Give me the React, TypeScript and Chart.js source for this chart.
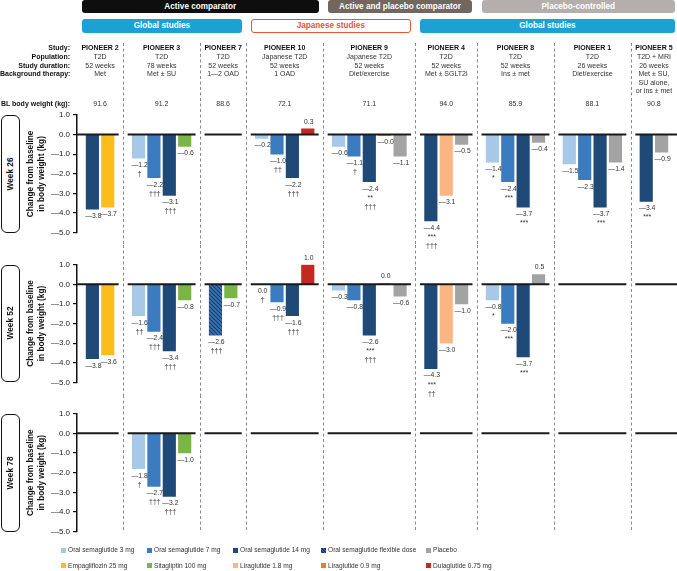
import React, { useEffect, useRef } from 'react';
import { Chart, registerables } from 'chart.js';

Chart.register(...registerables);

// ---------------- DATA ----------------
const studies = ['PIONEER 2', 'PIONEER 3', 'PIONEER 7', 'PIONEER 10', 'PIONEER 9', 'PIONEER 4', 'PIONEER 8', 'PIONEER 1', 'PIONEER 5'];
const populations = ['T2D', 'T2D', 'T2D', 'Japanese T2D', 'Japanese T2D', 'T2D', 'T2D', 'T2D', 'T2D + MRI'];
const durations = ['52 weeks', '78 weeks', '52 weeks', '52 weeks', '52 weeks', '52 weeks', '52 weeks', '26 weeks', '26 weeks'];
const backgroundTherapy = ['Met', 'Met ± SU', '1—2 OAD', '1 OAD', 'Diet/exercise', 'Met ± SGLT2i', 'Ins ± met', 'Diet/exercise', 'Met ± SU,\nSU alone,\nor ins ± met'];
const blBodyWeight = ['91.6', '91.2', '88.6', '72.1', '71.1', '94.0', '85.9', '88.1', '90.8'];
const rowLabels = ['Study:', 'Population:', 'Study duration:', 'Background therapy:'];
const blLabel = 'BL body weight (kg):';

const comparatorLabels = ['Active comparator', 'Active and placebo comparator', 'Placebo-controlled'];
const comparatorSpans = [[0, 3], [4, 5], [6, 8]];
const regionLabels = ['Global studies', 'Japanese studies', 'Global studies'];
const regionSpans = [[0, 2], [3, 4], [5, 8]];

const treatmentNames = [
  'Oral semaglutide 3 mg', 'Oral semaglutide 7 mg', 'Oral semaglutide 14 mg', 'Oral semaglutide flexible dose', 'Placebo',
  'Empagliflozin 25 mg', 'Sitagliptin 100 mg', 'Liraglutide 1.8 mg', 'Liraglutide 0.9 mg', 'Dulaglutide 0.75 mg',
];
const treatmentColors = ['#a8c8e7', '#3b7bbf', '#1f4a78', '#3a74b6', '#a3a3a3', '#fbbd1b', '#79b646', '#fbb583', '#ef7a2c', '#c4281f'];
const FLEX = 3;

// one entry per study arm (bar slot)
const armStudy = [0, 0, 1, 1, 1, 1, 2, 2, 3, 3, 3, 3, 4, 4, 4, 4, 4, 5, 5, 5, 6, 6, 6, 6, 7, 7, 7, 7, 8, 8];
const armTreatment = [2, 5, 0, 1, 2, 6, 3, 6, 0, 1, 2, 9, 0, 1, 2, 8, 4, 2, 7, 4, 0, 1, 2, 4, 0, 1, 2, 4, 2, 4];

const weekLabels = ['Week 26', 'Week 52', 'Week 78'];
const week26Change = [-3.8, -3.7, -1.2, -2.2, -3.1, -0.6, null, null, -0.2, -1.0, -2.2, 0.3, -0.6, -1.1, -2.4, -0.04, -1.1, -4.4, -3.1, -0.5, -1.4, -2.4, -3.7, -0.4, -1.5, -2.3, -3.7, -1.4, -3.4, -0.9];
const week26Marks = ['', '', '†', '†††', '†††', '', '', '', '', '††', '†††', '', '', '†', '**\n†††', '', '', '***\n†††', '', '', '*', '***', '***', '', '', '', '***', '', '***', ''];
const week52Change = [-3.8, -3.6, -1.6, -2.4, -3.4, -0.8, -2.6, -0.7, 0.0, -0.9, -1.6, 1.0, -0.3, -0.8, -2.6, 0.04, -0.6, -4.3, -3.0, -1.0, -0.8, -2.0, -3.7, 0.5, null, null, null, null, null, null];
const week52Marks = ['', '', '††', '†††', '†††', '', '†††', '', '†', '†††', '†††', '', '', '', '***\n†††', '', '', '***\n††', '', '', '*', '***', '***', '', '', '', '', '', '', ''];
const week78Change = [null, null, -1.8, -2.7, -3.2, -1.0, null, null, null, null, null, null, null, null, null, null, null, null, null, null, null, null, null, null, null, null, null, null, null, null];
const week78Marks = ['', '', '†', '†††', '†††', '', '', '', '', '', '', '', '', '', '', '', '', '', '', '', '', '', '', '', '', '', '', '', '', ''];

const yTicks = [1, 0, -1, -2, -3, -4, -5];
const yTitle = ['Change from baseline', 'in body weight (kg)'];

// ---------------- LAYOUT ----------------
const FONT = '"Liberation Sans", Arial, Helvetica, sans-serif';
const W = 677;
const PLOT_LEFT = 77;
const PLOT_RIGHT = 677;

const armSlot: number[] = [];
(() => {
  let s = 0;
  armStudy.forEach((st, i) => {
    if (i > 0 && st !== armStudy[i - 1]) s += 1;
    armSlot.push(s);
    s += 1;
  });
})();
const X_MIN = -1;
const X_MAX = armSlot[armSlot.length - 1] + 1;
const slotPx = (s: number) => PLOT_LEFT + ((s - X_MIN) / (X_MAX - X_MIN)) * (PLOT_RIGHT - PLOT_LEFT);
const studyFirst = studies.map((_, g) => Math.min(...armSlot.filter((_, i) => armStudy[i] === g)));
const studyLast = studies.map((_, g) => Math.max(...armSlot.filter((_, i) => armStudy[i] === g)));
const studyCenter = (g: number) => (slotPx(studyFirst[g]) + slotPx(studyLast[g])) / 2;
const sepSlots = studies.slice(1).map((_, g) => studyFirst[g + 1] - 1);
const sepPx = (k: number) => slotPx(sepSlots[k]);
const spanLeft = (g: number) => (g === 0 ? PLOT_LEFT + 5 : sepPx(g - 1) + 4.5);
const spanRight = (g: number) => (g === studies.length - 1 ? PLOT_RIGHT - 2 : sepPx(g) - 4.5);

// canvases overlap downwards so labels below a panel are never clipped;
// separators are drawn only over each panel's own band [sepFrom, sepTo)
const panels = [
  { top: 0, height: 262, areaTop: 115, areaBottom: 232.7, sepFrom: 43, sepTo: 245, values: week26Change, marks: week26Marks },
  { top: 245, height: 165, areaTop: 264.7, areaBottom: 382.3, sepFrom: 0, sepTo: 150, values: week52Change, marks: week52Marks },
  { top: 395, height: 145, areaTop: 413.7, areaBottom: 531.7, sepFrom: 0, sepTo: 135, values: week78Change, marks: week78Marks },
];

const fmtVal = (v: number) => (v < 0 ? '—' : '') + Math.abs(v).toFixed(1);

function makeHatch(): CanvasPattern | string {
  const c = document.createElement('canvas');
  c.width = 4;
  c.height = 4;
  const g = c.getContext('2d');
  if (!g) return treatmentColors[FLEX];
  g.fillStyle = treatmentColors[FLEX];
  g.fillRect(0, 0, 4, 4);
  g.strokeStyle = '#1b3a66';
  g.lineWidth = 1.1;
  g.beginPath();
  g.moveTo(0, 0); g.lineTo(4, 4);
  g.moveTo(-1, 3); g.lineTo(1, 5);
  g.moveTo(3, -1); g.lineTo(5, 1);
  g.stroke();
  return g.createPattern(c, 'repeat') || treatmentColors[FLEX];
}

const decorPlugin = {
  id: 'panelDecor',
  beforeDatasetsDraw(chart: any, _a: any, opts: any) {
    const ctx = chart.ctx;
    ctx.save();
    ctx.strokeStyle = '#8c8c8c';
    ctx.lineWidth = 1;
    ctx.setLineDash([3, 2.5]);
    const xs = chart.scales.x;
    sepSlots.forEach((s) => {
      const x = Math.round(xs.getPixelForValue(s)) + 0.5;
      ctx.beginPath();
      ctx.moveTo(x, opts.sepFrom);
      ctx.lineTo(x, opts.sepTo);
      ctx.stroke();
    });
    ctx.restore();
  },
  afterDatasetsDraw(chart: any, _a: any, opts: any) {
    const ctx = chart.ctx;
    const xs = chart.scales.x;
    const ys = chart.scales.y;
    const y0 = ys.getPixelForValue(0);
    ctx.save();
    // zero lines per study
    ctx.strokeStyle = '#1a1a1a';
    ctx.lineWidth = 2;
    studies.forEach((_, g) => {
      const l = g === 0 ? chart.chartArea.left : xs.getPixelForValue(sepSlots[g - 1]) + 4.5;
      const r = g === studies.length - 1 ? chart.chartArea.right : xs.getPixelForValue(sepSlots[g]) - 4.5;
      ctx.beginPath();
      ctx.moveTo(l, y0);
      ctx.lineTo(r, y0);
      ctx.stroke();
    });
    // value labels
    ctx.fillStyle = '#333';
    ctx.textAlign = 'center';
    ctx.textBaseline = 'middle';
    const values: (number | null)[] = opts.values;
    const marks: string[] = opts.marks;
    values.forEach((v, i) => {
      if (v === null) return;
      const x = xs.getPixelForValue(armSlot[i]) + 1;
      const yEnd = ys.getPixelForValue(v);
      ctx.font = `6.8px ${FONT}`;
      if (v > 0) {
        ctx.fillText(fmtVal(v), x, yEnd - 7);
      } else {
        const ly = Math.max(yEnd, y0) + 7;
        ctx.fillText(fmtVal(v), x, ly);
        const lines = marks[i] ? marks[i].split('\n') : [];
        ctx.font = `7px ${FONT}`;
        lines.forEach((ln, k) => ctx.fillText(ln, x, ly + 9 * (k + 1)));
      }
    });
    ctx.restore();
  },
};

function Panel({ index }: { index: number }) {
  const ref = useRef<HTMLCanvasElement>(null);
  const p = panels[index];
  useEffect(() => {
    if (!ref.current) return;
    const hatch = makeHatch();
    const datasets = treatmentNames.map((name, t) => ({
      label: name,
      data: armTreatment
        .map((tr, i) => ({ tr, i }))
        .filter(({ tr, i }) => tr === t && p.values[i] !== null)
        .map(({ i }) => ({ x: armSlot[i], y: p.values[i] as number })),
      backgroundColor: t === FLEX ? hatch : treatmentColors[t],
      borderWidth: 0,
      barThickness: 12.5,
      grouped: false,
    }));
    const chart = new Chart(ref.current, {
      type: 'bar',
      data: { datasets } as any,
      plugins: [decorPlugin as any],
      options: {
        responsive: false,
        animation: false,
        events: [],
        layout: { padding: { left: 0, right: 0, top: p.areaTop - p.top, bottom: p.top + p.height - p.areaBottom } },
        plugins: {
          legend: { display: false },
          tooltip: { enabled: false },
          panelDecor: { values: p.values, marks: p.marks, sepFrom: p.sepFrom, sepTo: p.sepTo },
        } as any,
        scales: {
          x: { type: 'linear', min: X_MIN, max: X_MAX, display: false, offset: false, grid: { offset: false } },
          y: {
            min: yTicks[yTicks.length - 1],
            max: yTicks[0],
            afterFit: (scale: any) => { scale.width = PLOT_LEFT; },
            afterBuildTicks: (scale: any) => { scale.ticks = yTicks.map((v) => ({ value: v })); },
            ticks: {
              padding: 3,
              color: '#222',
              font: { family: FONT, size: 8 },
              callback: (v: any) => fmtVal(Number(v)),
            },
            grid: { drawOnChartArea: false, drawTicks: true, tickLength: 4, color: '#111', lineWidth: 1.2 },
            border: { display: true, color: '#111', width: 1.5 },
            title: {
              display: true,
              text: yTitle,
              color: '#111',
              font: { family: FONT, size: 8.3, weight: 'bold', lineHeight: 1.3 },
              padding: { top: 25.3, bottom: 0 },
            },
          },
        } as any,
      },
    });
    return () => chart.destroy();
  }, []);
  return (
    <canvas
      ref={ref}
      width={W}
      height={p.height}
      style={{ position: 'absolute', left: 0, top: p.top, width: W, height: p.height }}
    />
  );
}

const abs = (extra: React.CSSProperties): React.CSSProperties => ({ position: 'absolute', whiteSpace: 'nowrap', ...extra });

function Header() {
  const rowY = [48.3, 57, 65.8, 74.3];
  const lineH = 8.5;
  const cols = [studies, populations, durations, backgroundTherapy];
  return (
    <>
      {comparatorLabels.map((lab, k) => {
        const l = spanLeft(comparatorSpans[k][0]);
        const r = spanRight(comparatorSpans[k][1]);
        const bg = ['#0e0e0e', '#71675f', '#b4afac'][k];
        return (
          <div key={'c' + k} style={abs({ left: l, top: 0, width: r - l, height: 13.3, background: bg, borderRadius: 3, color: '#fff', fontFamily: FONT, fontWeight: 'bold', fontSize: 8.2, lineHeight: '13.3px', textAlign: 'center' })}>
            {lab}
          </div>
        );
      })}
      {regionLabels.map((lab, k) => {
        const l = spanLeft(regionSpans[k][0]);
        const r = spanRight(regionSpans[k][1]);
        const jp = k === 1;
        return (
          <div key={'r' + k} style={abs({ left: l, top: 19, width: r - l, height: 13.7, boxSizing: 'border-box', background: jp ? '#fff' : '#1ba1d4', border: jp ? '1px solid #e9552f' : 'none', borderRadius: 3, color: jp ? '#e9552f' : '#fff', fontFamily: FONT, fontWeight: 'bold', fontSize: 8.2, lineHeight: jp ? '11.7px' : '13.7px', textAlign: 'center' })}>
            {lab}
          </div>
        );
      })}
      {rowLabels.map((lab, k) => (
        <div key={'l' + k} style={abs({ left: 0, width: 70, top: rowY[k] - 5, height: 10, lineHeight: '10px', textAlign: 'right', fontFamily: FONT, fontWeight: 'bold', fontSize: 7, color: '#111' })}>
          {lab}
        </div>
      ))}
      <div style={abs({ left: 0, width: 70, top: 103.5 - 5, height: 10, lineHeight: '10px', textAlign: 'right', fontFamily: FONT, fontWeight: 'bold', fontSize: 7, color: '#111' })}>
        {blLabel}
      </div>
      {cols.map((arr, k) =>
        arr.map((txt, g) => (
          <div key={'t' + k + '_' + g} style={abs({ left: studyCenter(g) - 40, width: 80, top: rowY[k] - lineH / 2, lineHeight: lineH + 'px', textAlign: 'center', fontFamily: FONT, fontSize: 7, fontWeight: k === 0 ? 'bold' : 'normal', color: k === 0 ? '#111' : '#333' })}>
            {txt.split('\n').map((ln, j) => (<div key={j}>{ln}</div>))}
          </div>
        ))
      )}
      {blBodyWeight.map((txt, g) => (
        <div key={'bl' + g} style={abs({ left: studyCenter(g) - 40, width: 80, top: 103.5 - 5, lineHeight: '10px', textAlign: 'center', fontFamily: FONT, fontSize: 7, color: '#333' })}>
          {txt}
        </div>
      ))}
    </>
  );
}

function WeekBoxes() {
  return (
    <>
      {weekLabels.map((lab, k) => {
        const p = panels[k];
        const h = p.areaBottom - p.areaTop;
        return (
          <div key={k} style={abs({ left: 1, top: p.areaTop, width: 18.7, height: h, boxSizing: 'border-box', border: '1.3px solid #111', borderRadius: 6, background: '#fff' })}>
            <div style={abs({ left: '50%', top: '50%', transform: 'translate(-50%, -50%) rotate(-90deg)', fontFamily: FONT, fontWeight: 'bold', fontSize: 8.3, color: '#111' })}>
              {lab}
            </div>
          </div>
        );
      })}
    </>
  );
}

function Legend() {
  const colX = [61, 147, 233, 321, 426];
  const rowY = [550, 565.5];
  return (
    <>
      {treatmentNames.map((name, t) => {
        const r = Math.floor(t / 5);
        const c = t % 5;
        const swatch: React.CSSProperties =
          t === FLEX
            ? { background: `repeating-linear-gradient(45deg, ${treatmentColors[FLEX]} 0px, ${treatmentColors[FLEX]} 1.2px, #1b3a66 1.2px, #1b3a66 2.2px)` }
            : { background: treatmentColors[t] };
        return (
          <React.Fragment key={t}>
            <div style={abs({ left: colX[c], top: rowY[r] - 2.5, width: 5, height: 5, ...swatch })} />
            <div style={abs({ left: colX[c] + 7, top: rowY[r] - 5, height: 10, lineHeight: '10px', fontFamily: FONT, fontSize: 6.6, color: '#333' })}>
              {name}
            </div>
          </React.Fragment>
        );
      })}
    </>
  );
}

export default function App() {
  return (
    <div style={{ position: 'absolute', left: 0, top: 0, width: W, height: 571, background: '#fff', overflow: 'hidden' }}>
      <Panel index={0} />
      <Panel index={1} />
      <Panel index={2} />
      <Header />
      <WeekBoxes />
      <Legend />
    </div>
  );
}
